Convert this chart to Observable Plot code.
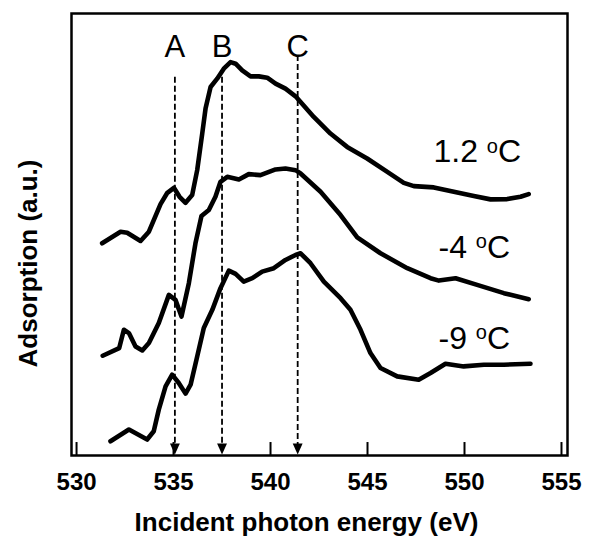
<!DOCTYPE html>
<html><head><meta charset="utf-8">
<script src="https://cdn.jsdelivr.net/npm/d3@7"></script>
<script src="https://cdn.jsdelivr.net/npm/@observablehq/plot@0.6"></script>
<style>body{margin:0;background:#fff}</style>
</head><body><div id="chart"></div>
<script>
// Series: 1.2 oC
const energyWarm = [531.32, 532.27, 532.61, 533.30, 533.73, 534.33, 534.68, 535.02, 535.31, 535.62, 535.96, 536.22, 536.48, 536.65, 536.91, 537.25, 537.59, 537.94, 538.20, 538.54, 538.97, 539.40, 539.83, 540.26, 540.77, 541.29, 541.55, 542.23, 543.09, 543.95, 544.98, 546.02, 546.87, 547.39, 548.42, 549.45, 550.48, 551.34, 552.20, 552.89, 553.31];
const absWarm = [212.7, 224.3, 223.3, 215, 224.3, 252, 263.3, 268.3, 259.3, 253.3, 261, 286, 322.7, 347.7, 369.3, 377.7, 387.7, 394.3, 392.7, 386, 380, 380, 378.7, 372.7, 367.7, 360, 354.3, 339.3, 322.7, 309.3, 297.7, 284.3, 273.3, 270, 268.7, 264.3, 260, 256.7, 257, 259.3, 262];
// Series: -4 oC
const energyMid = [531.35, 532.20, 532.44, 532.70, 533.04, 533.39, 533.73, 534.24, 534.76, 535.10, 535.41, 535.79, 536.13, 536.44, 536.82, 537.16, 537.42, 537.77, 538.37, 538.88, 539.48, 540.26, 540.77, 541.29, 541.55, 542.58, 543.61, 544.47, 545.67, 547.05, 548.25, 548.68, 549.54, 550.65, 552.03, 553.31];
const absMid = [100, 107.7, 126, 122.7, 109.3, 105.3, 112.7, 132.7, 161, 156, 139.3, 172.7, 212.7, 240, 246, 259.3, 274.3, 279.3, 276.7, 282, 281, 286.7, 287.7, 286, 282.7, 264.3, 241, 218.7, 202.7, 187.7, 177.7, 175.3, 177.7, 171, 162.7, 156.7];
// Series: -9 oC
const energyCold = [531.75, 532.70, 533.64, 533.98, 534.24, 534.59, 534.93, 535.27, 535.62, 535.88, 536.22, 536.56, 537.00, 537.42, 537.85, 538.20, 538.62, 539.06, 539.57, 540.17, 540.77, 541.29, 541.55, 542.06, 542.75, 543.61, 544.12, 544.64, 545.15, 545.67, 546.53, 547.64, 548.25, 549.02, 549.96, 551.00, 552.03, 553.40];
const absCold = [14.3, 26, 16, 24.3, 46, 69.3, 81, 72.7, 62, 71, 99.3, 127.7, 146, 167.7, 185.3, 182, 174.3, 177.7, 184.3, 187.7, 196, 201, 202.7, 192.7, 174.3, 157.7, 146, 126, 102.7, 87.7, 79.3, 76, 82.7, 92, 89.3, 91, 91, 92];

const seriesNames = ["1.2 oC", "-4 oC", "-9 oC"];
const labelEnergy = [548.4, 548.66, 548.66];
const labelLevel = [304, 208.5, 117.5];

const peakNames = ["A", "B", "C"];
const peakEnergy = [535.07, 537.5, 541.4];
const peakTop = [379, 379, 401];
const peakLabelLevel = 409;

const xTicks = [530, 535, 540, 545, 550, 555];
const xLabel = "Incident photon energy (eV)";
const yLabel = "Adsorption (a.u.)";

const rows = [];
[[energyWarm, absWarm], [energyMid, absMid], [energyCold, absCold]].forEach(([xs, ys], k) =>
  xs.forEach((x, i) => rows.push({series: seriesNames[k], energy: x, abs: ys[i]})));
const peaks = peakNames.map((n, i) => ({name: n, energy: peakEnergy[i], top: peakTop[i]}));
const labels = seriesNames.map((n, i) => ({name: n, energy: labelEnergy[i], level: labelLevel[i]}));

const triangleDown = {
  draw(ctx, size) {
    const r = Math.sqrt(size / Math.PI);
    ctx.moveTo(0, 0);
    ctx.lineTo(-0.9 * r, -2 * r);
    ctx.lineTo(0.9 * r, -2 * r);
    ctx.closePath();
  }
};

const chart = Plot.plot({
  width: 590, height: 538,
  marginLeft: 71, marginRight: 23, marginTop: 13, marginBottom: 83,
  style: {fontFamily: "'Liberation Sans', Arial, sans-serif", background: "#fff", color: "#000", overflow: "visible"},
  x: {domain: [529.74, 555.31], axis: null},
  y: {domain: [0, 443], axis: null},
  marks: [
    Plot.ruleX(peaks, {x: "energy", y1: "top", y2: 10, stroke: "#000", strokeWidth: 1.8, strokeDasharray: "6,3"}),
    Plot.dot(peaks, {x: "energy", y: 0, dy: -1, r: 5.5, symbol: triangleDown, fill: "#000"}),
    Plot.text(peaks, {x: "energy", y: peakLabelLevel, text: "name", fontSize: 31, fill: "#000"}),
    Plot.line(rows, {x: "energy", y: "abs", z: "series", stroke: "#000", strokeWidth: 4.6, strokeLinejoin: "round", strokeLinecap: "round"}),
    Plot.text(labels, {x: "energy", y: "level", text: "name", textAnchor: "start", fontSize: 32, fill: "#000"}),
    Plot.ruleX(xTicks, {x: d => d, y1: 0, y2: 13, stroke: "#000", strokeWidth: 2}),
    Plot.frame({stroke: "#000", strokeWidth: 2.5}),
    Plot.text(xTicks, {x: d => d, frameAnchor: "bottom", lineAnchor: "middle", dy: 27, text: d => String(d), fontSize: 24, fontWeight: "bold", fill: "#000"}),
    Plot.text([xLabel], {frameAnchor: "bottom", lineAnchor: "middle", textAnchor: "middle", dx: -13, dy: 67, text: d => d, fontSize: 26, fontWeight: "bold", fill: "#000"}),
    Plot.text([yLabel], {frameAnchor: "left", lineAnchor: "middle", textAnchor: "middle", rotate: -90, dx: -43, dy: 29, text: d => d, fontSize: 26, fontWeight: "bold", fill: "#000"})
  ]
});

d3.select(chart).selectAll("text").each(function () {
  const m = /^(.*) oC$/.exec(this.textContent);
  if (m) {
    const s = d3.select(this);
    s.text(null);
    s.append("tspan").text(m[1] + " ");
    s.append("tspan").attr("font-size", 20).attr("dy", -9.5).text("o");
    s.append("tspan").attr("dy", 9.5).text("C");
  }
});

document.getElementById("chart").appendChild(chart);
</script>
</body></html>
